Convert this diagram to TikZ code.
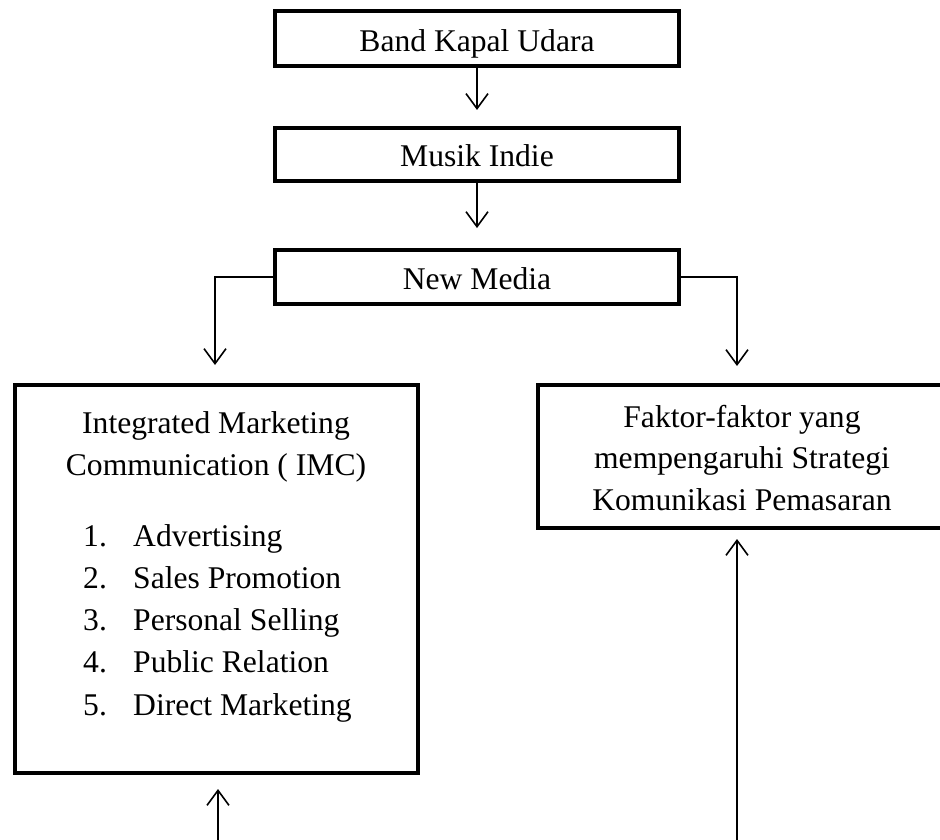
\documentclass[tikz,border=0pt]{standalone}
\usepackage{fontspec}
\setmainfont{Liberation Serif}
\usetikzlibrary{arrows.meta}
\begin{document}
\begin{tikzpicture}[x=1pt,y=-1pt,
  box/.style={draw=black, line width=4pt, inner sep=0pt, outer sep=0pt, rectangle},
  lbl/.style={anchor=base, inner sep=0pt, font=\fontsize{31.6}{42}\selectfont},
  lbll/.style={anchor=base west, inner sep=0pt, font=\fontsize{31.6}{42}\selectfont},
  conn/.style={draw=black, line width=1.6pt, -{Straight Barb[length=15pt, width=22pt]}}
]
\useasboundingbox (0,0) rectangle (940,840);
\clip (0,0) rectangle (940,840);

% boxes
\node[box, minimum width=404pt, minimum height=55.3pt] (b1) at (477,38.7) {};
\node[box, minimum width=404pt, minimum height=53.3pt] (b2) at (477,154.3) {};
\node[box, minimum width=404pt, minimum height=53.7pt] (b3) at (477,277.2) {};
\node[box, minimum width=403.3pt, minimum height=388pt] (imc) at (216.3,579) {};
\node[box, minimum width=408pt, minimum height=143pt] (fk) at (742,456.5) {};

% texts
\node[lbl] (t1) at (477,52) {Band Kapal Udara};
\node[lbl] (t2) at (477,167) {Musik Indie};
\node[lbl] (t3) at (477,289) {New Media};

\node[lbl] (i1) at (216,433.5) {Integrated Marketing};
\node[lbl] (i2) at (216,475.6) {Communication ( IMC)};
\node[lbll] (n1) at (83,546) {1.};
\node[lbll] (n2) at (83,588) {2.};
\node[lbll] (n3) at (83,630) {3.};
\node[lbll] (n4) at (83,672.5) {4.};
\node[lbll] (n5) at (83,715) {5.};
\node[lbll] (l1) at (133,546) {Advertising};
\node[lbll] (l2) at (133,588) {Sales Promotion};
\node[lbll] (l3) at (133,630) {Personal Selling};
\node[lbll] (l4) at (133,672.5) {Public Relation};
\node[lbll] (l5) at (133,715) {Direct Marketing};

\node[lbl] (f1) at (742,427) {Faktor-faktor yang};
\node[lbl] (f2) at (742,468.5) {mempengaruhi Strategi};
\node[lbl] (f3) at (742,510.3) {Komunikasi Pemasaran};

% connectors
\draw[conn, shorten >=17.7pt] (b1.south) -- (b2.north);
\draw[conn, shorten >=22.3pt] (b2.south) -- (b3.north);
\coordinate (lt) at (215,385);
\coordinate (rt) at (737,385);
\draw[conn, shorten >=20pt] (b3.west) -| (lt);
\draw[conn, shorten >=19pt] (b3.east) -| (rt);
\coordinate (lb) at (218,842);
\coordinate (lbt) at (218,773);
\coordinate (rb) at (737,842);
\coordinate (rbt) at (737,528);
\draw[conn, shorten >=16pt] (lb) -- (lbt);
\draw[conn, shorten >=11pt] (rb) -- (rbt);
\end{tikzpicture}
\end{document}
